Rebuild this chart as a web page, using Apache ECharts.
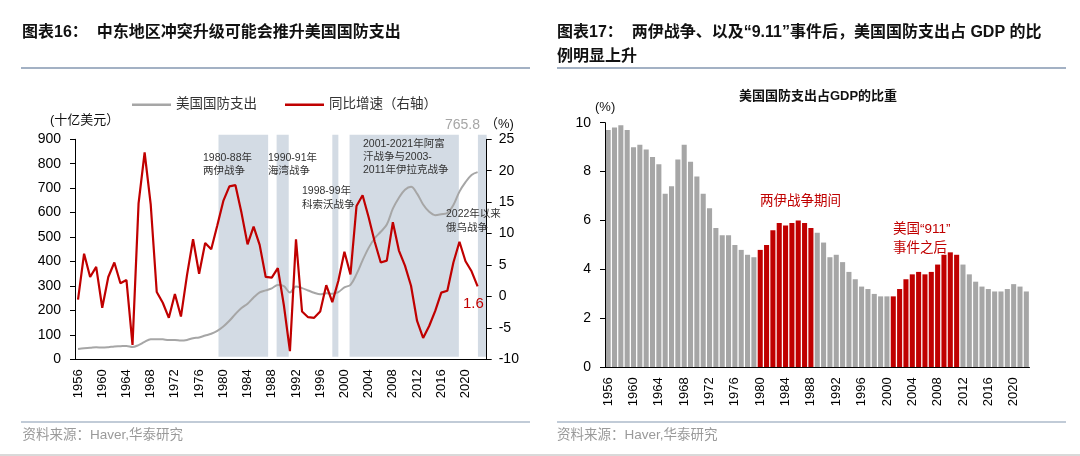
<!DOCTYPE html>
<html><head><meta charset="utf-8">
<script src="https://cdn.jsdelivr.net/npm/echarts@6/dist/echarts.min.js"></script>
<style>html,body{margin:0;padding:0;background:#fff}#c{width:1080px;height:456px}</style>
</head><body><div id="c"></div>
<script>
// ---------- data ----------
const yearsLeft = [1956,1957,1958,1959,1960,1961,1962,1963,1964,1965,1966,1967,1968,1969,1970,1971,1972,1973,1974,1975,1976,1977,1978,1979,1980,1981,1982,1983,1984,1985,1986,1987,1988,1989,1990,1991,1992,1993,1994,1995,1996,1997,1998,1999,2000,2001,2002,2003,2004,2005,2006,2007,2008,2009,2010,2011,2012,2013,2014,2015,2016,2017,2018,2019,2020,2021,2022,2023];
// US defense spending, billion USD (1956-2022)
const defenseSpending = [42.5,45.4,46.8,49.0,48.1,49.6,52.3,53.4,54.8,50.6,
  58.1,71.4,81.9,82.5,81.7,78.9,79.2,76.7,79.3,86.5,
  89.6,97.2,104.5,116.3,134.0,157.5,185.3,209.9,227.4,252.7,
  273.4,282.0,290.4,303.6,299.3,273.3,298.3,291.1,281.6,272.1,
  265.7,270.5,268.2,274.8,294.4,304.7,348.5,404.7,455.8,495.3,
  521.8,551.3,616.1,661.0,693.5,705.6,677.9,633.4,603.5,589.7,
  593.4,598.7,631.1,686.0,724.6,753.9,765.8];
// YoY growth, % (1956-2022)
const yoyGrowth = [-0.5,6.8,3.1,4.7,-1.8,3.1,5.4,2.1,2.6,-7.7,
  14.8,22.9,14.7,0.7,-1.0,-3.4,0.4,-3.2,3.4,9.1,
  3.6,8.5,7.5,11.3,15.2,17.5,17.7,13.3,8.3,11.1,
  8.2,3.1,3.0,4.5,-1.4,-8.7,9.1,-2.4,-3.3,-3.4,
  -2.4,1.8,-0.9,2.5,7.1,3.5,14.4,16.1,12.6,8.7,
  5.4,5.7,11.8,7.3,4.9,1.7,-3.9,-6.6,-4.7,-2.3,
  0.6,0.9,5.4,8.7,5.6,4.0,1.6];
// war periods shaded (year-start units)
const warBands = [[1979.7,1987.9],[1989.3,1991.3],[1998.5,1999.5],[2001.35,2019.4],[2022.55,2024]];
const warLabels = ['1980-88年\n两伊战争','1990-91年\n海湾战争','1998-99年\n科索沃战争','2001-2021年阿富\n汗战争与2003-\n2011年伊拉克战争','2022年以来\n俄乌战争'];

const yearsRight = [1956,1957,1958,1959,1960,1961,1962,1963,1964,1965,1966,1967,1968,1969,1970,1971,1972,1973,1974,1975,1976,1977,1978,1979,1980,1981,1982,1983,1984,1985,1986,1987,1988,1989,1990,1991,1992,1993,1994,1995,1996,1997,1998,1999,2000,2001,2002,2003,2004,2005,2006,2007,2008,2009,2010,2011,2012,2013,2014,2015,2016,2017,2018,2019,2020,2021,2022];
// defense spending as % of GDP (1956-2022)
const gdpShare = [9.7,9.8,9.9,9.7,9.0,9.1,8.9,8.6,8.3,7.1,
  7.4,8.5,9.1,8.4,7.8,7.1,6.5,5.7,5.4,5.4,
  5.0,4.8,4.6,4.5,4.8,5.0,5.6,5.9,5.8,5.9,
  6.0,5.9,5.7,5.5,5.1,4.5,4.6,4.3,3.9,3.6,
  3.3,3.2,3.0,2.9,2.9,2.9,3.2,3.6,3.8,3.9,
  3.8,3.9,4.2,4.6,4.7,4.6,4.2,3.8,3.5,3.3,
  3.2,3.1,3.1,3.2,3.4,3.3,3.1];
const highlightPeriods = [[1980,1988],[2001,2011]];

// ---------- styling ----------
const FONT = "'Liberation Sans', 'Noto Sans CJK SC', sans-serif";
const GRAY = '#A6A6A6', RED = '#C00000', BAND = '#D3DBE4', RULE = '#8497B0';

const chart = echarts.init(document.getElementById('c'), null, {renderer:'canvas'});

function txt(text, x, y, size, color, opts) {
  opts = opts || {};
  return {type:'text', z:50, style:{text:text, x:x, y:y, fill:color, fontSize:size,
    fontFamily:FONT, fontWeight:opts.bold?'bold':'normal', textAlign:opts.align||'left',
    textVerticalAlign:opts.valign||'middle', lineHeight:opts.lh||undefined}};
}
function hline(x1,x2,y,color,w){return {type:'line', z:50, shape:{x1:x1,y1:y,x2:x2,y2:y}, style:{stroke:color, lineWidth:w}};}

const axisLabelBase = {color:'#000', fontFamily:FONT};

const option = {
  animation:false,
  textStyle:{fontFamily:FONT},
  legend:{
    data:['美国国防支出','同比增速（右轴）'], left:127, top:93, icon:'rect', itemWidth:39, itemHeight:2.5,
    itemGap:28, textStyle:{fontSize:13.5, color:'#333', fontFamily:FONT}
  },
  grid:[
    {left:75, right:593.3, top:139.3, bottom:96.7, outerBoundsMode:'none'},
    {left:75, right:593.3, top:134.7, bottom:99.3, outerBoundsMode:'none'},
    {left:605, right:50.5, top:122.7, bottom:88.7, outerBoundsMode:'none'}
  ],
  xAxis:[
    {type:'category', gridIndex:0, data:yearsLeft, boundaryGap:true, z:5,
     axisLine:{lineStyle:{color:'#000', width:1}},
     axisTick:{interval:3, length:5, lineStyle:{color:'#000'}},
     axisLabel:Object.assign({interval:3, rotate:90, fontSize:13, margin:10}, axisLabelBase)},
    {type:'value', gridIndex:1, min:1956, max:2024, show:false},
    {type:'category', gridIndex:2, data:yearsRight, boundaryGap:true, z:5,
     axisLine:{lineStyle:{color:'#000', width:1}},
     axisTick:{interval:3, length:5, lineStyle:{color:'#000'}},
     axisLabel:Object.assign({interval:3, rotate:90, fontSize:13, margin:10}, axisLabelBase)}
  ],
  yAxis:[
    {type:'value', gridIndex:0, min:0, max:900, interval:100, z:5,
     axisLine:{show:true, lineStyle:{color:'#000'}}, axisTick:{show:true, length:5, lineStyle:{color:'#000'}},
     splitLine:{show:false}, axisLabel:Object.assign({fontSize:14, margin:14}, axisLabelBase)},
    {type:'value', gridIndex:0, position:'right', min:-10, max:25, interval:5, z:5,
     axisLine:{show:true, lineStyle:{color:'#000'}}, axisTick:{show:true, length:5, lineStyle:{color:'#000'}},
     splitLine:{show:false}, axisLabel:Object.assign({fontSize:14, margin:12}, axisLabelBase)},
    {type:'value', gridIndex:1, min:0, max:1, show:false},
    {type:'value', gridIndex:2, min:0, max:10, interval:2, z:5,
     axisLine:{show:true, lineStyle:{color:'#000'}}, axisTick:{show:true, length:5, lineStyle:{color:'#000'}},
     splitLine:{show:false}, axisLabel:Object.assign({fontSize:14, margin:14}, axisLabelBase)}
  ],
  series:[
    {type:'custom', name:'bands', xAxisIndex:1, yAxisIndex:2, z:1, silent:true,
     data:warBands,
     renderItem:function(params, api){
       const p0 = api.coord([api.value(0), 0]);
       const p1 = api.coord([api.value(1), 1]);
       return {type:'rect', shape:{x:p0[0], y:p1[1], width:p1[0]-p0[0], height:p0[1]-p1[1]}, style:{fill:BAND}};
     }},
    {type:'line', name:'美国国防支出', xAxisIndex:0, yAxisIndex:0, data:defenseSpending, z:3,
     symbol:'none', smooth:0.35, lineStyle:{color:GRAY, width:2}, itemStyle:{color:GRAY}},
    {type:'line', name:'同比增速（右轴）', xAxisIndex:0, yAxisIndex:1, data:yoyGrowth, z:4,
     symbol:'none', lineStyle:{color:RED, width:2.2}, itemStyle:{color:RED}},
    {type:'bar', name:'占GDP比重', xAxisIndex:2, yAxisIndex:3, data:gdpShare, barCategoryGap:'20%',
     itemStyle:{color:function(p){
       const y = yearsRight[p.dataIndex];
       for (const r of highlightPeriods) if (y>=r[0] && y<=r[1]) return RED;
       return GRAY;
     }}}
  ],
  graphic:[
    txt('图表16：  中东地区冲突升级可能会推升美国国防支出', 22, 33, 16, '#111', {bold:true}),
    hline(21, 530, 68, RULE, 1.5),
    txt('图表17：  两伊战争、以及“9.11”事件后，美国国防支出占 GDP 的比', 557, 33, 16, '#111', {bold:true}),
    txt('例明显上升', 557, 57, 16, '#111', {bold:true}),
    hline(557, 1066, 68, RULE, 1.5),
    hline(21, 530, 422, RULE, 1.2),
    hline(557, 1066, 422, RULE, 1.2),
    txt('资料来源：Haver,华泰研究', 22.5, 435, 13.5, '#9A9A9A'),
    txt('资料来源：Haver,华泰研究', 557, 435, 13.5, '#9A9A9A'),
    hline(0, 1080, 455, '#CCCCCC', 1.5),
    txt('(十亿美元）', 50, 120, 13, '#111'),
    txt('（%)', 485, 124, 13, '#111'),
    txt('765.8', 445, 125, 14, GRAY),
    txt('1.6', 463, 304, 15, RED),
    txt(warLabels[0], 203, 151, 10.5, '#333', {valign:'top', lh:13.5}),
    txt(warLabels[1], 268, 151, 10.5, '#333', {valign:'top', lh:13.5}),
    txt(warLabels[2], 302, 184.5, 10.5, '#333', {valign:'top', lh:13.5}),
    txt(warLabels[3], 363, 137.5, 10.5, '#333', {valign:'top', lh:13}),
    txt(warLabels[4], 446, 207.5, 10.5, '#333', {valign:'top', lh:13.7}),
    txt('美国国防支出占GDP的比重', 818, 96, 13, '#111', {bold:true, align:'center'}),
    txt('(%)', 595, 107, 13, '#111'),
    txt('两伊战争期间', 760, 201, 13.5, RED),
    txt('美国“911”', 893, 229, 13.5, RED),
    txt('事件之后', 893, 248, 13.5, RED)
  ]
};
chart.setOption(option);
</script></body></html>
